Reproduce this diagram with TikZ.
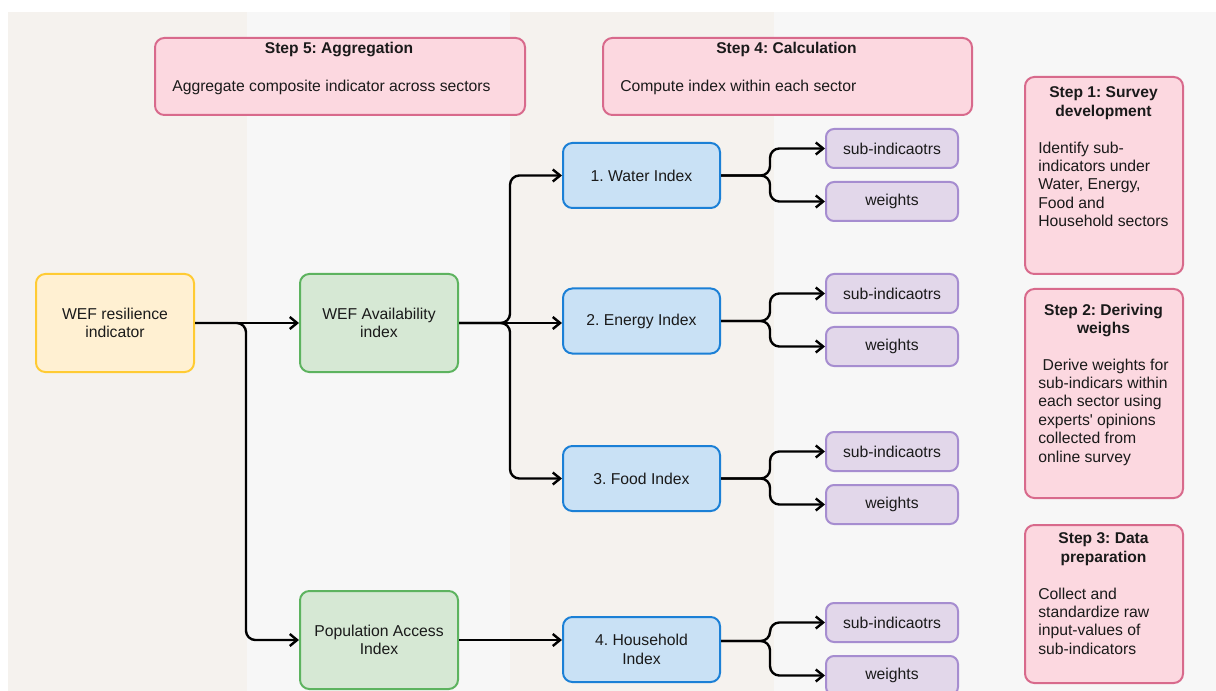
\documentclass[tikz,border=0pt]{standalone}
\usepackage{fontspec}
\setmainfont{Liberation Sans}
\usetikzlibrary{arrows.meta}
\frenchspacing
\definecolor{bgA}{HTML}{F5F2EE}
\definecolor{bgB}{HTML}{F7F7F7}
\definecolor{txt}{HTML}{1A1A1A}
\definecolor{yelF}{HTML}{FFF0D2}
\definecolor{yelD}{HTML}{FFCB33}
\definecolor{grnF}{HTML}{D6E8D4}
\definecolor{grnD}{HTML}{5DB35F}
\definecolor{bluF}{HTML}{C9E1F5}
\definecolor{bluD}{HTML}{1B80D6}
\definecolor{purF}{HTML}{E2D7EA}
\definecolor{purD}{HTML}{A68DD0}
\definecolor{pnkF}{HTML}{FCD8E0}
\definecolor{pnkD}{HTML}{D86A8C}
\tikzset{
  basebox/.style={line width=1.5pt, rounded corners=7pt, inner sep=0pt, align=center, text=txt},
  resbox/.style={basebox, draw=yelD, fill=yelF, minimum width=118.5pt, minimum height=73.5pt},
  grnbox/.style={basebox, draw=grnD, fill=grnF, minimum width=118.5pt, minimum height=73.5pt},
  idxbox/.style={basebox, draw=bluD, fill=bluF, minimum width=117.75pt, minimum height=48.75pt},
  subbox/.style={basebox, draw=purD, fill=purF, minimum width=99pt, minimum height=29.25pt, rounded corners=6pt},
  stepbox/.style={basebox, draw=pnkD, fill=pnkF, anchor=north west},
  steptitle/.style={inner sep=0pt, font=\fontsize{11.7}{13.8}\selectfont\bfseries, align=center, text=txt},
  stepbody/.style={inner sep=0pt, align=left, text=txt},
  conn/.style={line width=1.8pt, rounded corners=7pt, -{Straight Barb[length=5.5pt,width=9pt]}},
}
\begin{document}
\begin{tikzpicture}[x=0.75pt,y=-0.75pt,font=\fontsize{11.8}{13.8}\selectfont]
\clip (0,0) rectangle (1216,691);
\useasboundingbox (0,0) rectangle (1216,691);
% background lanes
\fill[bgA] (8,12) rectangle (247,691);
\fill[bgB] (247,12) rectangle (510,691);
\fill[bgA] (510,12) rectangle (774,691);
\fill[bgB] (774,12) rectangle (1216,691);

% step boxes
\node[stepbox, minimum width=277.5pt, minimum height=57.75pt] (s5) at (154,37) {};
\node[steptitle, anchor=base] (s5t) at (339,53.6) {Step 5: Aggregation};
\node[stepbody, anchor=base west] (s5b) at (172,91.6) {Aggregate composite indicator across sectors};

\node[stepbox, minimum width=276.75pt, minimum height=57.75pt] (s4) at (602,37) {};
\node[steptitle, anchor=base] (s4t) at (786.5,53.6) {Step 4: Calculation};
\node[stepbody, anchor=base west] (s4b) at (620,91.6) {Compute index within each sector};

\node[stepbox, minimum width=118.5pt, minimum height=147.75pt] (s1) at (1024,76) {};
\node[steptitle, anchor=north] (s1t) at (1103.5,86.5) {Step 1: Survey\\development};
\node[stepbody, anchor=north west] (s1b) at (1038,141.5) {Identify sub-\\indicators under\\Water, Energy,\\Food and\\Household sectors};

\node[stepbox, minimum width=118.5pt, minimum height=156.75pt] (s2) at (1024,288) {};
\node[steptitle, anchor=north] (s2t) at (1103.5,303.5) {Step 2: Deriving\\weighs};
\node[stepbody, anchor=north west] (s2b) at (1038,358.5) {\ Derive weights for\\sub-indicars within\\each sector using\\experts\textquotesingle{} opinions\\collected from\\online survey};

\node[stepbox, minimum width=118.5pt, minimum height=118.5pt] (s3) at (1024,524) {};
\node[steptitle, anchor=north] (s3t) at (1103.5,532.5) {Step 3: Data\\preparation};
\node[stepbody, anchor=north west] (s3b) at (1038,587.5) {Collect and\\standardize raw\\input-values of\\sub-indicators};

% main nodes
\node[resbox] (res) at (115,323) {WEF resilience\\indicator};
\node[grnbox] (avail) at (379,323) {WEF Availability\\index};
\node[grnbox] (pop) at (379,640) {Population Access\\Index};

\node[idxbox] (water) at (641.5,175.5) {1. Water Index};
\node[idxbox] (energy) at (641.5,321) {2. Energy Index};
\node[idxbox] (food) at (641.5,478.5) {3. Food Index};
\node[idxbox] (hh) at (641.5,649.5) {4. Household\\Index};

\node[subbox] (ws) at (892,148.5) {sub-indicaotrs};
\node[subbox] (ww) at (892,201.5) {weights};
\node[subbox] (es) at (892,293.5) {sub-indicaotrs};
\node[subbox] (ew) at (892,346.5) {weights};
\node[subbox] (fs) at (892,451.5) {sub-indicaotrs};
\node[subbox] (fw) at (892,504.5) {weights};
\node[subbox] (hs) at (892,622.5) {sub-indicaotrs};
\node[subbox] (hw) at (892,675.5) {weights};

% junctions
\coordinate (j1) at (246,323);
\coordinate (j2) at (510,323);
\coordinate (jw) at (770,175.5);
\coordinate (je) at (770,321);
\coordinate (jf) at (770,478.5);
\coordinate (jh) at (770,641);

% connectors
\draw[conn] (res.east) -- (avail.west);
\draw[conn] (res.east) -- (j1) |- (pop.west);
\draw[conn] (avail.east) -- (j2) |- (water.west);
\draw[conn] (avail.east) -- (avail.east -| energy.west);
\draw[conn] (avail.east) -- (j2) |- (food.west);
\draw[conn] (pop.east) -- (pop.east -| hh.west);

\draw[conn] (water.east) -- (jw) |- (ws.west);
\draw[conn] (water.east) -- (jw) |- (ww.west);
\draw[conn] (energy.east) -- (je) |- (es.west);
\draw[conn] (energy.east) -- (je) |- (ew.west);
\draw[conn] (food.east) -- (jf) |- (fs.west);
\draw[conn] (food.east) -- (jf) |- (fw.west);
\draw[conn] (hh.east |- jh) -- (jh) |- (hs.west);
\draw[conn] (hh.east |- jh) -- (jh) |- (hw.west);
\end{tikzpicture}
\end{document}
